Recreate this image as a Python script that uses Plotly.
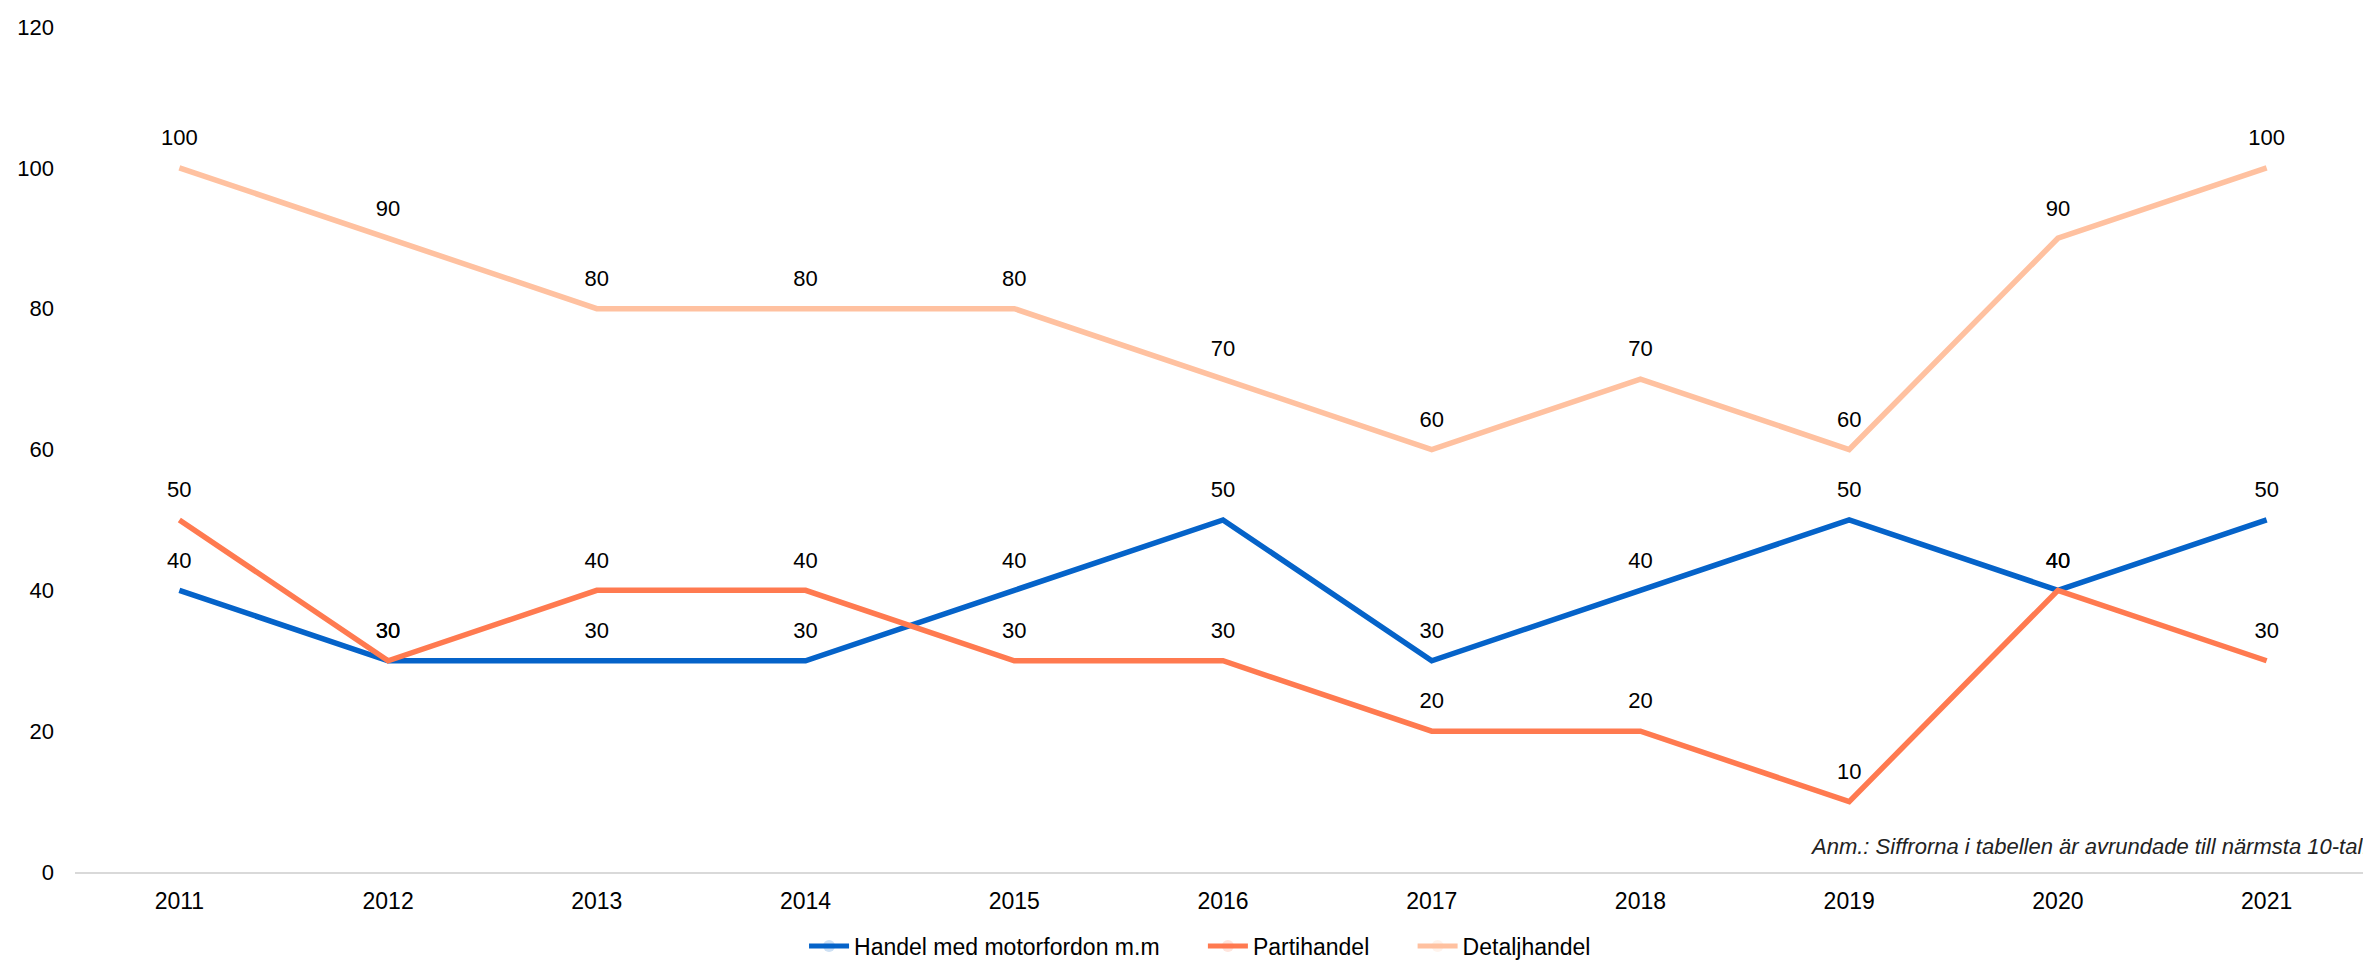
import plotly.graph_objects as go

years = ["2011", "2012", "2013", "2014", "2015", "2016", "2017", "2018", "2019", "2020", "2021"]
motorfordon = [40, 30, 30, 30, 40, 50, 30, 40, 50, 40, 50]
partihandel = [50, 30, 40, 40, 30, 30, 20, 20, 10, 40, 30]
detaljhandel = [100, 90, 80, 80, 80, 70, 60, 70, 60, 90, 100]

series_names = ["Handel med motorfordon m.m", "Partihandel", "Detaljhandel"]
series_values = [motorfordon, partihandel, detaljhandel]
series_colors = ["#0563C9", "#FF7A50", "#FFC1A0"]

FONT = "Liberation Sans, Arial, sans-serif"
FS = 23
PAD = "\u00a0" * 6

fig = go.Figure()
for i, (name, vals, color) in enumerate(zip(series_names, series_values, series_colors)):
    legend_name = name + (PAD if i < len(series_names) - 1 else "")
    fig.add_trace(go.Scatter(
        x=years, y=vals, name=legend_name, mode="lines+markers+text",
        line=dict(color=color, width=5.5),
        marker=dict(size=26, opacity=0, color=color),
        text=[str(v) for v in vals], textposition="top center",
        textfont=dict(family=FONT, size=22, color="#000000"),
        cliponaxis=False, hovertemplate=name + ": %{y}<extra>%{x}</extra>",
    ))

fig.add_annotation(
    text="<i>Anm.: Siffrorna i tabellen är avrundade till närmsta 10-tal.</i>",
    xref="paper", yref="paper", x=0.9995, y=0.03,
    xanchor="right", yanchor="middle", showarrow=False,
    font=dict(family=FONT, size=22, color="#222222"),
)

fig.update_layout(
    width=2371, height=962,
    margin=dict(l=67, r=8, t=19, b=98, autoexpand=False),
    paper_bgcolor="white", plot_bgcolor="white",
    font=dict(family=FONT, size=FS, color="#000000"),
    showlegend=True,
    legend=dict(orientation="h", xref="paper", x=0.49, yref="container", y=0.025,
                xanchor="center", yanchor="middle",
                font=dict(family=FONT, size=FS, color="#000000"), itemwidth=40,
                tracegroupgap=0, itemsizing="constant"),
    xaxis=dict(type="category", range=[-0.5, 10.5], showgrid=False, zeroline=False,
               showline=True, linecolor="#D9D9D9", linewidth=2, ticks="",
               ticklabelstandoff=7, tickfont=dict(family=FONT, size=FS, color="#000000")),
    yaxis=dict(range=[0, 120], dtick=20, tick0=0, showgrid=False, zeroline=False,
               showline=False, ticks="", ticklabelstandoff=20,
               tickfont=dict(family=FONT, size=22, color="#000000")),
)

fig.write_html("out.html")
